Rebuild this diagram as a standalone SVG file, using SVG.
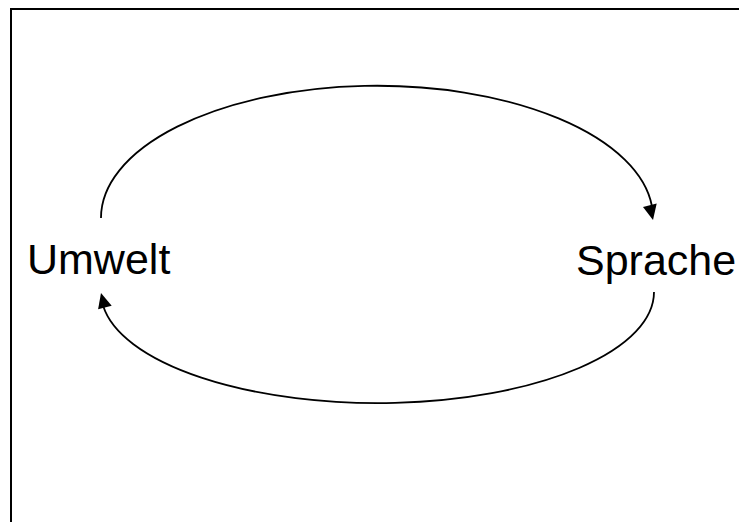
<svg xmlns="http://www.w3.org/2000/svg" width="739" height="522" viewBox="0 0 739 522">
  <style>
    .label { font-family: "Liberation Sans", Arial, sans-serif; font-size: 43px; fill: #000; }
    .arc { fill: none; stroke: #000; stroke-width: 1.8; }
    .head { fill: #000; stroke: none; }
  </style>
  <rect width="739" height="522" fill="#fff"/>
  <!-- page frame, running off the right and bottom edges -->
  <rect x="11" y="9" width="760" height="540" fill="none" stroke="#000" stroke-width="2"/>

  <g id="node-umwelt">
    <text class="label" x="27" y="274">Umwelt</text>
  </g>
  <g id="node-sprache">
    <text class="label" x="576" y="275">Sprache</text>
  </g>

  <g id="connectors">
    <!-- Umwelt to Sprache, over the top -->
    <path class="arc" d="M101,218 A276,132 0 0 1 651.9,206"/>
    <polygon class="head" points="653,220 643,207 656.7,203.5"/>
    <!-- Sprache back to Umwelt, underneath -->
    <path class="arc" d="M654,292 A276.5,111 0 0 1 103.2,306"/>
    <polygon class="head" points="101,293 111.7,305.7 98.1,309.3"/>
  </g>
</svg>
